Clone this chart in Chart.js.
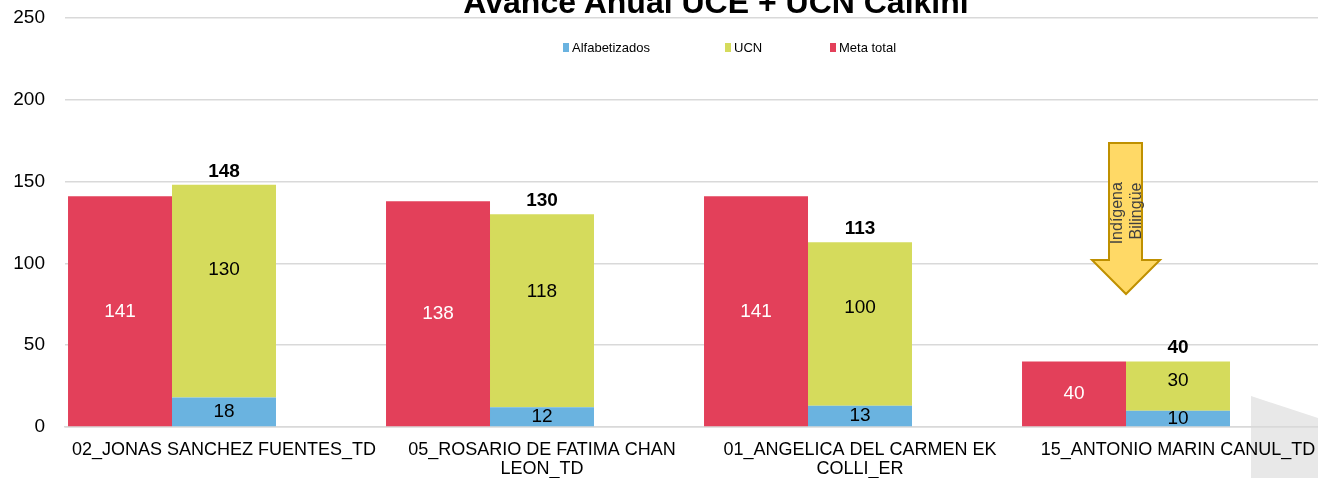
<!DOCTYPE html>
<html lang="es">
<head>
<meta charset="utf-8">
<title>Avance Anual UCE + UCN Calkini</title>
<script src="https://cdn.jsdelivr.net/npm/chart.js@4.4.1/dist/chart.umd.min.js"></script>
<style>
  html, body { margin: 0; padding: 0; background: #fff; overflow: hidden; }
  #wrap { position: relative; width: 1318px; height: 478px; overflow: hidden; font-family: "Liberation Sans", Arial, sans-serif; }
  #fondo, #grafica, #flecha { position: absolute; left: 0; top: 0; }
  #titulo { position: absolute; left: 0; top: -14px; width: 1432px; text-align: center; font-weight: bold; font-size: 32px; line-height: 32px; color: #000; white-space: nowrap; }
  #leyenda { position: absolute; left: 563px; top: 40px; display: flex; font-size: 13px; line-height: 15px; color: #000; white-space: nowrap; }
  #leyenda .item { display: flex; align-items: center; }
  #leyenda .caja { display: inline-block; width: 6px; height: 9px; margin-right: 3px; }
</style>
</head>
<body>
<div id="wrap">
  <svg id="fondo" width="1318" height="478">
    <polygon points="1251,396 1318,418 1318,478 1251,478" fill="#e8e8e8"></polygon>
  </svg>
  <canvas id="grafica" width="1432" height="478"></canvas>
  <div id="titulo">Avance Anual UCE + UCN Calkini</div>
  <div id="leyenda"></div>
  <svg id="flecha" width="1318" height="478">
    <polygon points="1109,143 1142,143 1142,260 1160,260 1126,294 1092,260 1109,260" fill="#ffd966" stroke="#bf9000" stroke-width="2"></polygon>
    <text transform="rotate(-90)" font-family="Liberation Sans, Arial, sans-serif" font-size="16" fill="#404040" text-anchor="middle">
      <tspan x="-211" y="1122">Indígena</tspan>
      <tspan x="-211" y="1141">Bilingüe</tspan>
    </text>
  </svg>
</div>
<script>
const categorias = [
  "02_JONAS SANCHEZ FUENTES_TD",
  ["05_ROSARIO DE FATIMA CHAN", "LEON_TD"],
  ["01_ANGELICA DEL CARMEN EK", "COLLI_ER"],
  "15_ANTONIO MARIN CANUL_TD"
];
const metaTotal = [141, 138, 141, 40];
const alfabetizados = [18, 12, 13, 10];
const ucn = [130, 118, 100, 30];
const totales = alfabetizados.map((v, i) => v + ucn[i]);
const ticksY = [0, 50, 100, 150, 200, 250];

const ROJO = "#e3405a";
const VERDE = "#d5db5c";
const AZUL = "#6ab3e0";
const FUENTE = '"Liberation Sans", Arial, sans-serif';

// leyenda html (va dentro del area del grafico, como en excel)
const leyenda = document.getElementById("leyenda");
[["Alfabetizados", AZUL, 162], ["UCN", VERDE, 105], ["Meta total", ROJO, 0]].forEach(([txt, color, ancho]) => {
  const it = document.createElement("div");
  it.className = "item";
  if (ancho) it.style.width = ancho + "px";
  it.innerHTML = '<span class="caja" style="background:' + color + '"></span>' + txt;
  leyenda.appendChild(it);
});

// etiquetas de datos
const etiquetas = {
  id: "etiquetas",
  afterDatasetsDraw(chart) {
    const ctx = chart.ctx;
    ctx.save();
    ctx.textAlign = "center";
    ctx.textBaseline = "middle";
    ctx.font = "19px " + FUENTE;
    chart.data.datasets.forEach((ds, i) => {
      if (!ds.etiqueta) return;
      chart.getDatasetMeta(i).data.forEach((bar, j) => {
        const p = bar.getProps(["x", "y", "base"], true);
        ctx.fillStyle = ds.etiqueta.color;
        ctx.fillText(String(ds.data[j]), p.x, p.base + (p.y - p.base) * ds.etiqueta.pos);
      });
    });
    ctx.font = "bold 19px " + FUENTE;
    ctx.fillStyle = "#000";
    ctx.textBaseline = "bottom";
    chart.getDatasetMeta(2).data.forEach((bar, j) => {
      ctx.fillText(String(totales[j]), bar.x, bar.y - 4);
    });
    ctx.restore();
  }
};

new Chart(document.getElementById("grafica"), {
  type: "bar",
  data: {
    labels: categorias,
    datasets: [
      { label: "Meta total", data: metaTotal, backgroundColor: ROJO, stack: "meta", etiqueta: { color: "#fff", pos: 0.5 } },
      { label: "Alfabetizados", data: alfabetizados, backgroundColor: AZUL, stack: "avance", etiqueta: { color: "#000", pos: 0.5 } },
      { label: "UCN", data: ucn, backgroundColor: VERDE, stack: "avance", etiqueta: { color: "#000", pos: 0.6 } },
      { label: "", data: [], stack: "vacio" }
    ]
  },
  options: {
    responsive: false,
    animation: false,
    categoryPercentage: 0.981,
    barPercentage: 1,
    layout: { padding: { left: 13, right: 95, top: 18, bottom: 0 } },
    plugins: {
      legend: { display: false },
      title: { display: false },
      tooltip: { enabled: false }
    },
    scales: {
      x: {
        stacked: true,
        grid: { display: false },
        border: { color: "#d9d9d9", width: 1.5 },
        ticks: {
          autoSkip: false, maxRotation: 0, padding: 6, color: "#000",
          font: { family: FUENTE, size: 18, lineHeight: 1.05 }
        },
        afterFit: (s) => { s.height = 51; s.paddingLeft = 0; s.paddingRight = 0; }
      },
      y: {
        stacked: true,
        min: 0, max: 250,
        afterBuildTicks: (s) => { s.ticks = ticksY.map(v => ({ value: v })); },
        grid: { color: "#d9d9d9", lineWidth: 1.5, drawTicks: false },
        border: { display: false },
        ticks: { padding: 20, color: "#000", font: { family: FUENTE, size: 19 } },
        afterFit: (s) => { s.width = 52; s.paddingTop = 0; s.paddingBottom = 0; }
      }
    }
  },
  plugins: [etiquetas]
});
</script>
</body>
</html>
